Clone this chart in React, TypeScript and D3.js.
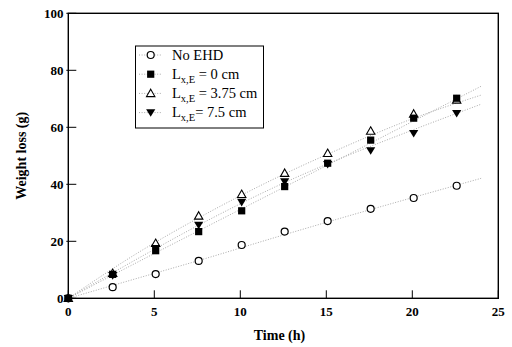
import React from "react";
import * as d3 from "d3";

const times = [0, 2.58, 5.08, 7.58, 10.08, 12.58, 15.08, 17.58, 20.08, 22.58];
const noEHD = [0, 3.9, 8.5, 13.1, 18.7, 23.4, 27.1, 31.4, 35.2, 39.5];
const lx0 = [0, 8.4, 16.7, 23.4, 30.7, 39.2, 47.4, 55.5, 63.2, 70.2];
const lx375 = [0, 8.8, 19.3, 28.9, 36.5, 43.9, 50.9, 58.7, 64.7, 69.6];
const lx75 = [0, 8.0, 17.5, 25.7, 33.7, 40.9, 47.0, 51.8, 57.9, 64.9];

const fitTimes = [0, 4, 8, 12, 16, 20, 24];
const fitNoEHD = [0, 7.0, 14.0, 21.3, 28.4, 35.3, 42.1];
const fitLx0 = [0, 12.6, 25.0, 37.3, 49.6, 62.0, 74.4];
const fitLx375 = [0, 15.8, 29.6, 42.0, 53.0, 63.0, 71.3];
const fitLx75 = [0, 13.8, 27.0, 39.0, 49.5, 59.0, 68.1];

const xTicks = [0, 5, 10, 15, 20, 25];
const yTicks = [0, 20, 40, 60, 80, 100];

type Kind = "circle" | "square" | "up" | "down";

const series: { name: string; sub: string; rest: string; kind: Kind; values: number[]; fit: number[] }[] = [
  { name: "No EHD", sub: "", rest: "", kind: "circle", values: noEHD, fit: fitNoEHD },
  { name: "L", sub: "x,E", rest: " = 0 cm", kind: "square", values: lx0, fit: fitLx0 },
  { name: "L", sub: "x,E", rest: " = 3.75 cm", kind: "up", values: lx375, fit: fitLx375 },
  { name: "L", sub: "x,E", rest: "= 7.5 cm", kind: "down", values: lx75, fit: fitLx75 },
];

const W = 512;
const H = 347;
const left = 68.3;
const right = 498.3;
const top = 13.3;
const bottom = 298.3;
const font = '"Liberation Serif", Tinos, "Times New Roman", Times, serif';

function Marker({ kind, x, y }: { kind: Kind; x: number; y: number }) {
  if (kind === "circle")
    return <circle cx={x} cy={y} r={3.5} fill="white" stroke="black" strokeWidth={1.2} />;
  if (kind === "square")
    return <rect x={x - 3.6} y={y - 3.6} width={7.2} height={7.2} fill="black" />;
  if (kind === "up") {
    const p = `M${x},${y - 4.2}L${x + 4.2},${y + 3.2}L${x - 4.2},${y + 3.2}Z`;
    return <path d={p} fill="white" stroke="black" strokeWidth={1.1} />;
  }
  const p = `M${x},${y + 4.2}L${x + 4.6},${y - 3.4}L${x - 4.6},${y - 3.4}Z`;
  return <path d={p} fill="black" />;
}

export default function App() {
  const x = d3.scaleLinear().domain([0, 25]).range([left, right]);
  const y = d3.scaleLinear().domain([0, 100]).range([bottom, top]);
  const line = d3
    .line<[number, number]>()
    .x((d) => x(d[0]))
    .y((d) => y(d[1]))
    .curve(d3.curveMonotoneX);

  const drawOrder = [0, 2, 3, 1];
  const txt = { fontFamily: font };

  return (
    <svg width={W} height={H} style={{ position: "absolute", left: 0, top: 0 }}>
      <rect width={W} height={H} fill="white" />
      {series.map((s, i) => (
        <path
          key={"fit" + i}
          d={line(fitTimes.map((t, j) => [t, s.fit[j]]) as [number, number][]) || ""}
          fill="none"
          stroke="#aaa"
          strokeWidth={1}
          strokeDasharray="1,1.6"
        />
      ))}
      {drawOrder.map((i) => {
        const s = series[i];
        return (
          <g key={"pts" + i}>
            {times.map((t, j) => (
              <Marker key={j} kind={s.kind} x={x(t)} y={y(s.values[j])} />
            ))}
          </g>
        );
      })}
      <rect x={left} y={top} width={right - left} height={bottom - top} fill="none" stroke="black" strokeWidth={1.4} />
      {xTicks.map((t) => (
        <g key={"xt" + t}>
          <line x1={x(t)} x2={x(t)} y1={bottom} y2={bottom - 8} stroke="black" strokeWidth={1} />
          <text x={x(t)} y={315.5} textAnchor="middle" fontWeight="bold" fontSize={13} style={txt}>
            {t}
          </text>
        </g>
      ))}
      {yTicks.map((t) => (
        <g key={"yt" + t}>
          <line x1={left - 2} x2={left + 8} y1={y(t)} y2={y(t)} stroke="black" strokeWidth={1} />
          <text x={63.5} y={y(t) + 4.3} textAnchor="end" fontWeight="bold" fontSize={13} style={txt}>
            {t}
          </text>
        </g>
      ))}
      <text x={279.5} y={340} textAnchor="middle" fontWeight="bold" fontSize={14} style={txt}>
        Time (h)
      </text>
      <text
        transform={`translate(25.5,${(top + bottom) / 2}) rotate(-90)`}
        textAnchor="middle"
        fontWeight="bold"
        fontSize={14}
        style={txt}
      >
        Weight loss (g)
      </text>
      <rect x={135.5} y={46} width={128} height={82} fill="white" stroke="black" strokeWidth={1} />
      {series.map((s, i) => {
        const cy = 55 + i * 19.2;
        return (
          <g key={"lg" + i}>
            <line x1={139} x2={162} y1={cy} y2={cy} stroke="#aaa" strokeWidth={1} strokeDasharray="1,1.6" />
            <Marker kind={s.kind} x={150.7} y={cy} />
            <text x={172} y={cy + 4.6} fontSize={14.5} style={txt}>
              {s.name}
              {s.sub ? (
                <tspan fontSize={10.5} dy={4}>
                  {s.sub}
                </tspan>
              ) : null}
              {s.sub ? <tspan dy={-4}>{s.rest}</tspan> : null}
            </text>
          </g>
        );
      })}
    </svg>
  );
}
